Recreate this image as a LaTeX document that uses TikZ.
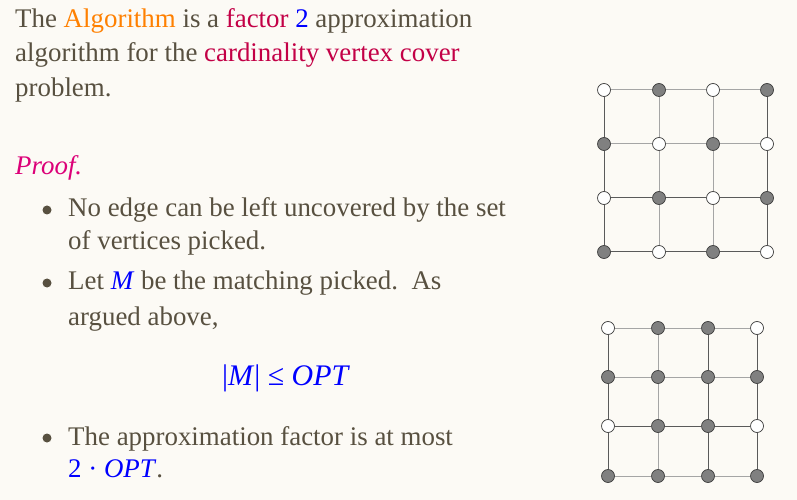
\documentclass[tikz,border=0pt]{standalone}
\usepackage{fontspec}
\setmainfont{Liberation Serif}
\definecolor{paper}{RGB}{252,250,245}
\definecolor{ink}{RGB}{88,80,64}
\definecolor{algo}{RGB}{255,128,0}
\definecolor{crim}{RGB}{195,0,70}
\definecolor{proofpink}{RGB}{220,0,120}
\definecolor{mathblue}{RGB}{0,0,255}
\definecolor{vgray}{RGB}{128,128,128}
\definecolor{vdark}{RGB}{60,60,60}
\definecolor{edark}{RGB}{90,90,90}
\definecolor{elight}{RGB}{165,165,165}
\begin{document}
\begin{tikzpicture}[x=1bp,y=-1bp,
    line/.style={anchor=base west, inner sep=0pt, text=ink, font=\fontsize{27}{32}\selectfont},
    bullet/.style={circle, fill=ink, inner sep=0pt, minimum size=9bp},
    free/.style={circle, draw=vdark, fill=white, inner sep=0pt, minimum size=13bp, line width=0.7bp},
    picked/.style={free, fill=vgray},
    dark/.style={draw=edark, line width=1bp},
    light/.style={draw=elight, line width=1bp}
]
    \fill[paper] (0,0) rectangle (797,500);
    \useasboundingbox (0,0) rectangle (797,500);

    % Statement
    \node[line] (stmt1) at (15,28) {The \textcolor{algo}{Algorithm} is a \textcolor{crim}{factor} \textcolor{mathblue}{2} approximation};
    \node[line] (stmt2) at (15,62) {algorithm for the \textcolor{crim}{cardinality vertex cover}};
    \node[line] (stmt3) at (15,97) {problem.};
    \node[line, text=proofpink] (proof) at (15,175) {\textit{Proof.}};

    % Bullets
    \node[bullet] (b1) at (47,210) {};
    \node[line] (item1a) at (68,217) {No edge can be left uncovered by the set};
    \node[line] (item1b) at (68,250) {of vertices picked.};
    \node[bullet] (b2) at (47,283) {};
    \node[line] (item2a) at (68,290) {Let \textcolor{mathblue}{\textit{M}} be the matching picked.\ \ As};
    \node[line] (item2b) at (68,325) {argued above,};
    \node[line, anchor=base, text=mathblue, font=\fontsize{30}{34}\selectfont] (bound) at (286,385) {|\textit{M}| ≤ \textit{OPT}};
    \node[bullet] (b3) at (47,438) {};
    \node[line] (item3a) at (68,445) {The approximation factor is at most};
    \node[line] (item3b) at (68,477) {\textcolor{mathblue}{2 · \textit{OPT}}.};

    % Grid 1: the vertex cover picked
    \node[free] (a11) at (604,90) {};  \node[picked] (a12) at (659,90) {};  \node[free] (a13) at (713,90) {};  \node[picked] (a14) at (767,90) {};
    \node[picked] (a21) at (604,144) {}; \node[free] (a22) at (659,144) {}; \node[picked] (a23) at (713,144) {}; \node[free] (a24) at (767,144) {};
    \node[free] (a31) at (604,198) {};  \node[picked] (a32) at (659,198) {}; \node[free] (a33) at (713,198) {};  \node[picked] (a34) at (767,198) {};
    \node[picked] (a41) at (604,252) {}; \node[free] (a42) at (659,252) {}; \node[picked] (a43) at (713,252) {}; \node[free] (a44) at (767,252) {};

    \draw[light] (a11) -- (a12); \draw[light] (a12) -- (a13); \draw[light] (a13) -- (a14);
    \draw[light] (a21) -- (a22); \draw[light] (a22) -- (a23); \draw[light] (a23) -- (a24);
    \draw[dark] (a31) -- (a32); \draw[dark] (a32) -- (a33); \draw[dark] (a33) -- (a34);
    \draw[dark] (a41) -- (a42); \draw[dark] (a42) -- (a43); \draw[dark] (a43) -- (a44);
    \draw[dark] (a11) -- (a21); \draw[dark] (a21) -- (a31); \draw[dark] (a31) -- (a41);
    \draw[light] (a12) -- (a22); \draw[light] (a22) -- (a32); \draw[light] (a32) -- (a42);
    \draw[light] (a13) -- (a23); \draw[light] (a23) -- (a33); \draw[light] (a33) -- (a43);
    \draw[dark] (a14) -- (a24); \draw[dark] (a24) -- (a34); \draw[dark] (a34) -- (a44);

    % Grid 2: endpoints of the matching
    \node[free] (c11) at (608,328) {};  \node[picked] (c12) at (658,328) {}; \node[picked] (c13) at (708,328) {}; \node[free] (c14) at (757,328) {};
    \node[picked] (c21) at (608,377) {}; \node[picked] (c22) at (658,377) {}; \node[picked] (c23) at (708,377) {}; \node[picked] (c24) at (757,377) {};
    \node[free] (c31) at (608,426) {};  \node[picked] (c32) at (658,426) {}; \node[picked] (c33) at (708,426) {}; \node[free] (c34) at (757,426) {};
    \node[picked] (c41) at (608,476) {}; \node[picked] (c42) at (658,476) {}; \node[picked] (c43) at (708,476) {}; \node[picked] (c44) at (757,476) {};

    \draw[light] (c11) -- (c12); \draw[light] (c12) -- (c13); \draw[light] (c13) -- (c14);
    \draw[light] (c21) -- (c22); \draw[light] (c22) -- (c23); \draw[light] (c23) -- (c24);
    \draw[dark] (c31) -- (c32); \draw[dark] (c32) -- (c33); \draw[dark] (c33) -- (c34);
    \draw[light] (c41) -- (c42); \draw[light] (c42) -- (c43); \draw[light] (c43) -- (c44);
    \draw[dark] (c11) -- (c21); \draw[dark] (c21) -- (c31); \draw[dark] (c31) -- (c41);
    \draw[light] (c12) -- (c22); \draw[light] (c22) -- (c32); \draw[light] (c32) -- (c42);
    \draw[dark] (c13) -- (c23); \draw[dark] (c23) -- (c33); \draw[dark] (c33) -- (c43);
    \draw[dark] (c14) -- (c24); \draw[dark] (c24) -- (c34); \draw[dark] (c34) -- (c44);
\end{tikzpicture}
\end{document}
